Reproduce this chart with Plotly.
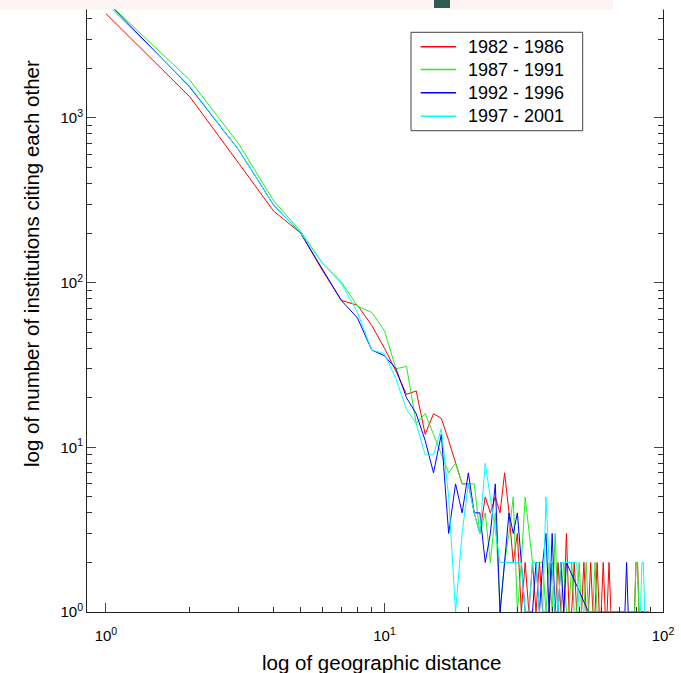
import plotly.graph_objects as go

# ---- data ----
distance = list(range(1, 90))

series_names = ["1982 - 1986", "1987 - 1991", "1992 - 1996", "1997 - 2001"]

counts_1982_1986 = [4300, 1345, 530, 272, 200, 118, 78, 73, 55, 40,
                    29, 21, 22, 12, 16, 15, 11, 8, 6, 6,
                    4, 3, 5, 4, 5, 4, 7, 4, 2, 3,
                    1, 2, 1, 2, 1, 2, 1, 1, 1, 2,
                    1, 2, 1, 1, 3, 1, 1, 2, 1, 1,
                    1, 2, 1, 1, 2, 1, 1, 2, 1, 1,
                    2, 1, 1, 2, 1, 1, 1, 1, 1, 1,
                    1, 1, 1, 1, 1, 1, 1, 1, 1, 2,
                    2, 1, 1, 1, 1, 1, 1, 1, 1]

counts_1987_1991 = [5160, 1699, 695, 314, 205, 131, 101, 72, 66, 51,
                    30, 31, 14, 16, 12, 9, 7, 8, 6, 6,
                    6, 3, 4, 2, 4, 1, 2, 3, 5, 1,
                    2, 5, 3, 2, 2, 2, 2, 1, 2, 1,
                    3, 1, 1, 2, 1, 1, 2, 1, 1, 2,
                    1, 1, 2, 1, 1, 1, 2, 1, 1, 1,
                    1, 1, 1, 1, 1, 1, 1, 1, 1, 1,
                    1, 1, 1, 1, 1, 1, 1, 1, 1, 2,
                    2, 1, 1, 1, 1, 1, 1, 1, 1]

counts_1992_1996 = [5140, 1540, 638, 296, 200, 119, 78, 61, 39, 36,
                    30, 20, 16, 11, 7, 12, 3, 6, 4, 7,
                    4, 4, 2, 3, 6, 1, 2, 4, 3, 4,
                    2, 1, 1, 1, 2, 1, 2, 3, 1, 3,
                    1, 1, 2, 1, 2, None, None, None, None, None,
                    None, None, None, 1, 1, 1, 1, 1, 1, 1,
                    1, 1, 1, 1, 1, 1, 1, 1, 1, 1,
                    1, 1, 1, 2, 1, 1, 1, 1, 1, 1,
                    1, 1, 1, 1, 1, 1, 1, 1, 1]

counts_1997_2001 = [4960, 1560, 638, 296, 200, 131, 99, 66, 39, 37,
                    26, 17, 14, 9, 9, 13, 5, 1, 3, 6,
                    4, 3, 8, 5, 3, 2, 2, 2, 2, 2,
                    2, 1, 1, 2, 2, 1, 1, 5, 2, 2,
                    1, 1, 2, 2, 2, 2, 2, 2, 2, 1,
                    1, 1, 1, 1, 1, 1, 1, 1, 1, 1,
                    1, 1, 1, 1, 1, 1, 1, 1, 1, 1,
                    1, 1, 1, 1, 1, 1, 1, 1, 1, 1,
                    1, 1, 1, 2, 2, 1, 1, 1, 1]

series_values = [counts_1982_1986, counts_1987_1991, counts_1992_1996, counts_1997_2001]
series_colors = ["#ff0000", "#22ee22", "#0000ff", "#00ffff"]

x_tick_vals = [1, 10, 100]
x_tick_text = ["10<sup>0</sup>", "10<sup>1</sup>", "10<sup>2</sup>"]
y_tick_vals = [1, 10, 100, 1000]
y_tick_text = ["10<sup>0</sup>", "10<sup>1</sup>", "10<sup>2</sup>", "10<sup>3</sup>"]

x_minor = [m * 10 ** e for e in range(0, 2) for m in range(2, 10)]
y_minor = [m * 10 ** e for e in range(0, 4) for m in range(2, 10)]

FONT = "Liberation Sans, Arial, sans-serif"

# pixel -> paper helpers for the figure frame (plot area 87..663 x 0..612)
L, R, T, B = 87, 18, 0, 61
PW, PH = 681 - L - R, 673 - T - B


def px(xp):
    return (xp - L) / PW


def py(yp):
    return (T + PH - yp) / PH


fig = go.Figure()
for name, vals, col in zip(series_names, series_values, series_colors):
    fig.add_trace(go.Scatter(x=distance, y=vals, mode="lines", name=name,
                             line=dict(color=col, width=1), connectgaps=True,
                             showlegend=False))

axis_common = dict(type="log", showgrid=False, zeroline=False, showline=True,
                   linecolor="#222", linewidth=1,
                   ticks="inside", ticklen=9, tickcolor="#444", tickwidth=1,
                   tickfont=dict(family=FONT, size=15, color="#000"))

fig.update_xaxes(**axis_common, mirror=False, range=[-0.068, 2], tickmode="array",
                 tickvals=x_tick_vals, ticktext=x_tick_text, ticklabelstandoff=10,
                 minor=dict(tickmode="array", tickvals=x_minor, ticks="inside",
                            ticklen=5, tickcolor="#333", showgrid=False))
fig.update_yaxes(**axis_common, mirror="ticks", range=[0, 3.7165], tickmode="array",
                 tickvals=y_tick_vals, ticktext=y_tick_text,
                 minor=dict(tickmode="array", tickvals=y_minor, ticks="inside",
                            ticklen=5, tickcolor="#333", showgrid=False))

# legend box drawn from the series names / colours
leg_rows = [46.7, 69.5, 92.8, 116.3]
shapes = [
    dict(type="rect", xref="paper", yref="paper", x0=px(411), x1=px(582.7),
         y0=py(130.7), y1=py(32.3), fillcolor="white",
         line=dict(color="#444", width=1), layer="above"),
]
annotations = [
    dict(text="log of geographic distance", xref="paper", yref="paper",
         x=px(381), y=py(662), xanchor="center", yanchor="middle",
         showarrow=False, font=dict(family=FONT, size=20.5, color="#000")),
    dict(text="log of number of institutions citing each other", xref="paper",
         yref="paper", x=px(31), y=py(264), xanchor="center", yanchor="middle",
         textangle=-90, showarrow=False,
         font=dict(family=FONT, size=20.5, color="#000")),
]
for name, col, ry in zip(series_names, series_colors, leg_rows):
    shapes.append(dict(type="line", xref="paper", yref="paper", x0=px(420.7),
                       x1=px(456), y0=py(ry), y1=py(ry),
                       line=dict(color=col, width=1.5), layer="above"))
    annotations.append(dict(text=name, xref="paper", yref="paper", x=px(466),
                            y=py(ry), xanchor="left", yanchor="middle",
                            showarrow=False,
                            font=dict(family=FONT, size=18, color="#000")))

# light strip across the very top of the picture (cropped page header)
shapes += [
    dict(type="rect", xref="paper", yref="paper", x0=px(0), x1=px(613),
         y0=py(9.5), y1=py(0), fillcolor="#fcf4f2", line=dict(width=0),
         layer="above"),
    dict(type="rect", xref="paper", yref="paper", x0=px(613), x1=px(681),
         y0=py(9.5), y1=py(0), fillcolor="white", line=dict(width=0),
         layer="above"),
    dict(type="rect", xref="paper", yref="paper", x0=px(434), x1=px(450),
         y0=py(8), y1=py(0), fillcolor="#2f5a55", line=dict(width=0),
         layer="above"),
]

fig.update_layout(
    width=681, height=673,
    margin=dict(l=L, r=R, t=T, b=B, pad=0),
    paper_bgcolor="white", plot_bgcolor="white",
    font=dict(family=FONT, color="#000"),
    showlegend=False,
    annotations=annotations,
    shapes=shapes,
)

fig.write_html("out.html",
               config={"displayModeBar": False, "staticPlot": True},
               post_script="document.body.style.margin='0px';"
                           "document.body.style.overflow='hidden';")
